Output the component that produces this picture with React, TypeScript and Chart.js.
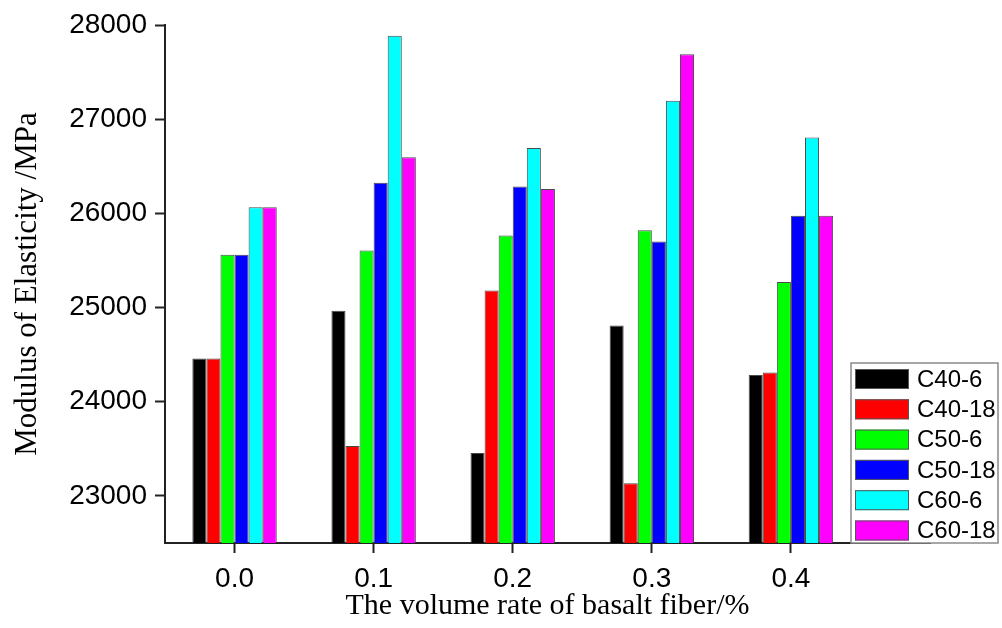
import React, { useEffect, useRef } from "react";
import { Chart, registerables } from "chart.js";

Chart.register(...registerables);

const X_VALUES = [0.0, 0.1, 0.2, 0.3, 0.4];
const Y_TICKS = [23000, 24000, 25000, 26000, 27000, 28000];
const SERIES_NAMES = ["C40-6", "C40-18", "C50-6", "C50-18", "C60-6", "C60-18"];
const SERIES_COLORS = ["#000000", "#ff0000", "#00ff00", "#0000ff", "#00ffff", "#ff00ff"];
const C40_6 = [24460, 24965, 23455, 24810, 24285];
const C40_18 = [24460, 23530, 25180, 23135, 24310];
const C50_6 = [25560, 25605, 25765, 25820, 25270];
const C50_18 = [25560, 26325, 26285, 25700, 25975];
const C60_6 = [26065, 27885, 26695, 27195, 26805];
const C60_18 = [26065, 26595, 26260, 27690, 25975];
const SERIES_VALUES = [C40_6, C40_18, C50_6, C50_18, C60_6, C60_18];

const legendPlugin = {
  id: "boxLegend",
  afterDraw(chart: any) {
    const ctx = chart.ctx;
    const x0 = 851, y0 = 363, w = 147, h = 180;
    ctx.save();
    ctx.fillStyle = "#ffffff";
    ctx.fillRect(x0, y0, w, h);
    ctx.strokeStyle = "#8a8a8a";
    ctx.lineWidth = 1.5;
    ctx.strokeRect(x0, y0, w, h);
    ctx.font = "24px 'Liberation Sans', Arial, sans-serif";
    ctx.textBaseline = "middle";
    ctx.textAlign = "left";
    chart.data.datasets.forEach((ds: any, i: number) => {
      const sy = 369 + i * 30.3;
      ctx.fillStyle = ds.backgroundColor;
      ctx.fillRect(855, sy, 54, 20);
      ctx.strokeStyle = "#555555";
      ctx.lineWidth = 1;
      ctx.strokeRect(855.5, sy + 0.5, 53, 19);
      ctx.fillStyle = "#000000";
      ctx.fillText(ds.label, 917, sy + 11);
    });
    ctx.restore();
  },
};

export default function App() {
  const ref = useRef<HTMLCanvasElement>(null);
  useEffect(() => {
    if (!ref.current) return;
    const chart = new Chart(ref.current, {
      type: "bar",
      data: {
        datasets: SERIES_NAMES.map((name, i) => ({
          label: name,
          data: X_VALUES.map((x, j) => ({ x, y: SERIES_VALUES[i][j] })),
          backgroundColor: SERIES_COLORS[i],
          borderColor: "#4a4a4a",
          borderWidth: 1,
          categoryPercentage: 0.607,
          barPercentage: 1,
        })),
      },
      options: {
        responsive: false,
        animation: false,
        layout: { padding: { left: 0, top: 25, right: 72, bottom: 0 } },
        plugins: { legend: { display: false }, tooltip: { enabled: false } },
        scales: {
          x: {
            type: "linear",
            min: -0.05,
            max: 0.5,
            offset: false,
            afterBuildTicks: (scale: any) => {
              scale.ticks = X_VALUES.map((v) => ({ value: v }));
            },
            afterFit: (scale: any) => {
              scale.height = 85;
            },
            grid: { offset: false, drawOnChartArea: false, drawTicks: true, tickLength: 10, tickColor: "#222", tickWidth: 2 },
            border: { color: "#222", width: 2 },
            ticks: {
              color: "#000",
              padding: 9,
              font: { family: "'Liberation Sans', Arial, sans-serif", size: 28 },
              callback: (v: any) => Number(v).toFixed(1),
              autoSkip: false,
              maxRotation: 0,
            },
            title: {
              display: true,
              text: "The volume rate of basalt fiber/%",
              color: "#000",
              font: { family: "'Liberation Serif', 'Times New Roman', serif", size: 30 },
              padding: { top: 0, bottom: 4 },
            },
          },
          y: {
            min: 22500,
            max: 28000,
            afterBuildTicks: (scale: any) => {
              scale.ticks = Y_TICKS.map((v) => ({ value: v }));
            },
            afterFit: (scale: any) => {
              scale.width = 165;
            },
            grid: { drawOnChartArea: false, drawTicks: true, tickLength: 10, tickColor: "#222", tickWidth: 2 },
            border: { color: "#222", width: 2 },
            ticks: {
              color: "#000",
              padding: 8,
              font: { family: "'Liberation Sans', Arial, sans-serif", size: 28 },
              callback: (v: any) => String(v),
            },
            title: {
              display: true,
              text: "Modulus of Elasticity /MPa",
              color: "#000",
              font: { family: "'Liberation Serif', 'Times New Roman', serif", size: 31 },
              padding: { top: 9, bottom: 0 },
            },
          },
        },
      },
      plugins: [legendPlugin],
    });
    return () => chart.destroy();
  }, []);
  return (
    <div style={{ position: "fixed", left: 0, top: 0, width: 1002, height: 628, background: "#fff" }}>
      <canvas ref={ref} width={1002} height={628} style={{ display: "block" }} />
    </div>
  );
}
